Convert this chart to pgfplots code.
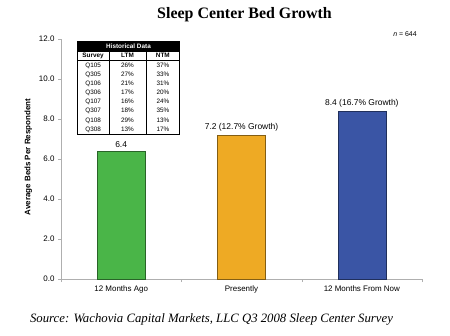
\documentclass[border=0pt]{standalone}
\usepackage{pgfplots}
\pgfplotsset{compat=1.18}
\usepackage{fontspec}
\setmainfont{Liberation Sans}
\newfontfamily\timesfont{Liberation Serif}
\usepackage{array}
\usepackage{colortbl}

\definecolor{bargreen}{RGB}{74,181,72}
\definecolor{barorange}{RGB}{238,170,36}
\definecolor{barblue}{RGB}{58,85,165}
\definecolor{axisgray}{RGB}{175,175,175}

\begin{document}
\begin{tikzpicture}[x=1bp,y=1bp]
\useasboundingbox (0,0) rectangle (450,335);
\node[font=\timesfont\bfseries\fontsize{16}{19}\selectfont] at (244.5,320) {Sleep Center Bed Growth};
\node[font=\timesfont\itshape\fontsize{12.8}{15}\selectfont] at (211.5,16) {Source: Wachovia Capital Markets, LLC Q3 2008 Sleep Center Survey};
\node[font=\fontsize{7}{8}\selectfont] at (405,301) {\textit{n} = 644};

\begin{axis}[at={(61bp,56bp)}, anchor=south west, scale only axis,
  width=361bp, height=240bp,
  xmin=-0.5, xmax=2.5, ymin=0, ymax=12,
  axis x line*=bottom, axis y line*=left,
  axis line style={axisgray, -},
  ytick={0,2,4,6,8,10,12},
  /pgf/number format/fixed, /pgf/number format/fixed zerofill,
  /pgf/number format/precision=1, /pgf/number format/assume math mode=true,
  xtick={0,1,2},
  xticklabels={12 Months Ago, Presently, 12 Months From Now},
  minor xtick={-0.5,0.5,1.5,2.5},
  major x tick style={draw=none},
  tick align=outside, major tick length=3bp, minor tick length=3bp,
  tick style={axisgray},
  ticklabel style={font=\fontsize{8}{9}\selectfont},
  ylabel={Average Beds Per Respondent},
  ylabel style={font=\fontsize{8}{9}\selectfont\bfseries, xshift=2bp},
  ybar, bar width=48bp,
  nodes near coords, point meta=explicit symbolic,
  nodes near coords style={font=\fontsize{8.5}{10}\selectfont, text=black},
]
\addplot[bar shift=0pt, fill=bargreen, draw=bargreen!55!black] coordinates {(0,6.4) [6.4]};
\addplot[bar shift=0pt, fill=barorange, draw=barorange!55!black] coordinates {(1,7.2) [7.2 (12.7\% Growth)]};
\addplot[bar shift=0pt, fill=barblue, draw=barblue!55!black] coordinates {(2,8.4) [8.4 (16.7\% Growth)]};
\end{axis}

\node[anchor=north west, inner sep=0pt, font=\fontsize{6.4}{9.2}\selectfont] at (77,294) {%
\setlength{\tabcolsep}{1bp}%
\begin{tabular}{|>{\centering\arraybackslash}p{29bp}|>{\centering\arraybackslash}p{35bp}|>{\centering\arraybackslash}p{31bp}|}
\hline
\multicolumn{3}{|>{\columncolor{black}}c|}{\color{white}\bfseries Historical Data}\\
\hline
\bfseries Survey & \bfseries LTM & \bfseries NTM\\ \hline
Q105 & 26\% & 37\%\\
Q305 & 27\% & 33\%\\
Q106 & 21\% & 31\%\\
Q306 & 17\% & 20\%\\
Q107 & 16\% & 24\%\\
Q307 & 18\% & 35\%\\
Q108 & 29\% & 13\%\\
Q308 & 13\% & 17\%\\
\hline
\end{tabular}};
\end{tikzpicture}
\end{document}
